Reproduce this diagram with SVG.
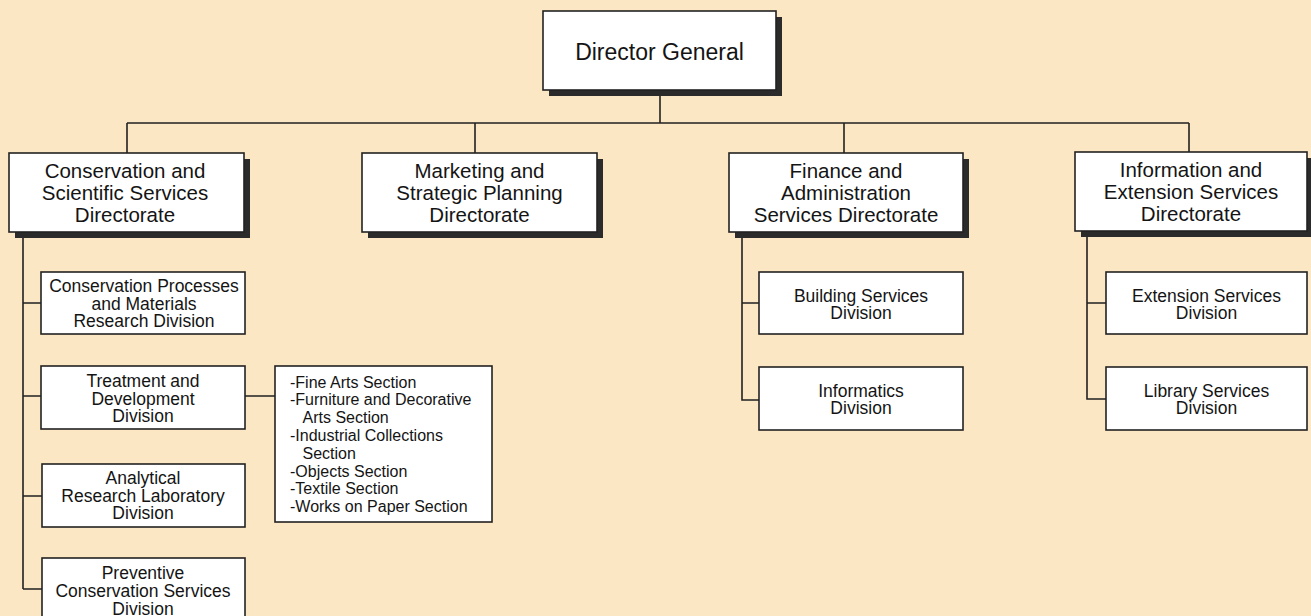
<svg xmlns="http://www.w3.org/2000/svg" width="1311" height="616" viewBox="0 0 1311 616">
<style>
.bg{fill:#fbe7c3}
.box{fill:#ffffff;stroke:#222;stroke-width:1.6}
.sh{fill:#2b2b2b}
.ln{stroke:#222;stroke-width:1.6;fill:none}
text{font-family:"Liberation Sans",Arial,Helvetica,sans-serif;fill:#141414}
.t1{font-size:23px;text-anchor:middle}
.t2{font-size:20.5px;text-anchor:middle}
.t3{font-size:17.5px;text-anchor:middle}
.t4{font-size:16px}
</style>
<rect class="bg" x="0" y="0" width="1311" height="616"/>
<g id="connectors">
<path class="ln" d="M660 90V123M127 123H1189M127 123V153M475 123V153M844 123V153M1189 123V152"/>
<path class="ln" d="M23 238V589M23 303H41M23 396H41M23 496H42M23 589H42M245 396H275"/>
<path class="ln" d="M742 238V400H759M742 303H759"/>
<path class="ln" d="M1087 237V399H1106M1087 303H1106"/>
</g>
<g id="director-general">
<rect class="sh" x="549" y="17" width="233" height="79"/>
<rect class="box" x="543" y="11" width="233" height="79"/>
<text class="t1" x="659.5" y="60">Director General</text>
</g>
<g id="conservation-directorate">
<rect class="sh" x="15" y="159" width="235" height="79"/>
<rect class="box" x="9" y="153" width="235" height="79"/>
<text class="t2" x="125" y="178">Conservation and</text>
<text class="t2" x="125" y="200">Scientific Services</text>
<text class="t2" x="125" y="222">Directorate</text>
</g>
<g id="marketing-directorate">
<rect class="sh" x="368" y="159" width="235" height="79"/>
<rect class="box" x="362" y="153" width="235" height="79"/>
<text class="t2" x="479.5" y="178">Marketing and</text>
<text class="t2" x="479.5" y="200">Strategic Planning</text>
<text class="t2" x="479.5" y="222">Directorate</text>
</g>
<g id="finance-directorate">
<rect class="sh" x="735" y="159" width="234" height="79"/>
<rect class="box" x="729" y="153" width="234" height="79"/>
<text class="t2" x="846" y="178">Finance and</text>
<text class="t2" x="846" y="200">Administration</text>
<text class="t2" x="846" y="222">Services Directorate</text>
</g>
<g id="information-directorate">
<rect class="sh" x="1081" y="158" width="232" height="79"/>
<rect class="box" x="1075" y="152" width="232" height="79"/>
<text class="t2" x="1191" y="177">Information and</text>
<text class="t2" x="1191" y="199">Extension Services</text>
<text class="t2" x="1191" y="221">Directorate</text>
</g>
<g id="conservation-processes">
<rect class="box" x="41" y="272" width="204" height="62"/>
<text class="t3" x="144" y="292">Conservation Processes</text>
<text class="t3" x="144" y="309.5">and Materials</text>
<text class="t3" x="144" y="327">Research Division</text>
</g>
<g id="treatment-development">
<rect class="box" x="41" y="366" width="204" height="63"/>
<text class="t3" x="143" y="387">Treatment and</text>
<text class="t3" x="143" y="404.5">Development</text>
<text class="t3" x="143" y="422">Division</text>
</g>
<g id="sections">
<rect class="box" x="275" y="366" width="217" height="156"/>
<text class="t4" x="290" y="387.5">-Fine Arts Section</text>
<text class="t4" x="290" y="405.3">-Furniture and Decorative</text>
<text class="t4" x="302.5" y="423.1">Arts Section</text>
<text class="t4" x="290" y="440.9">-Industrial Collections</text>
<text class="t4" x="302.5" y="458.7">Section</text>
<text class="t4" x="290" y="476.5">-Objects Section</text>
<text class="t4" x="290" y="494.3">-Textile Section</text>
<text class="t4" x="290" y="512.1">-Works on Paper Section</text>
</g>
<g id="analytical-research">
<rect class="box" x="42" y="464" width="203" height="63"/>
<text class="t3" x="143" y="484">Analytical</text>
<text class="t3" x="143" y="501.5">Research Laboratory</text>
<text class="t3" x="143" y="519">Division</text>
</g>
<g id="preventive-conservation">
<rect class="box" x="42" y="558" width="203" height="66"/>
<text class="t3" x="143" y="579">Preventive</text>
<text class="t3" x="143" y="597">Conservation Services</text>
<text class="t3" x="143" y="614.5">Division</text>
</g>
<g id="building-services">
<rect class="box" x="759" y="272" width="204" height="62"/>
<text class="t3" x="861" y="301.5">Building Services</text>
<text class="t3" x="861" y="319">Division</text>
</g>
<g id="informatics">
<rect class="box" x="759" y="367" width="204" height="63"/>
<text class="t3" x="861" y="396.5">Informatics</text>
<text class="t3" x="861" y="414">Division</text>
</g>
<g id="extension-services">
<rect class="box" x="1106" y="272" width="201" height="62"/>
<text class="t3" x="1206.5" y="301.5">Extension Services</text>
<text class="t3" x="1206.5" y="319">Division</text>
</g>
<g id="library-services">
<rect class="box" x="1106" y="367" width="201" height="63"/>
<text class="t3" x="1206.5" y="396.5">Library Services</text>
<text class="t3" x="1206.5" y="414">Division</text>
</g>
</svg>
